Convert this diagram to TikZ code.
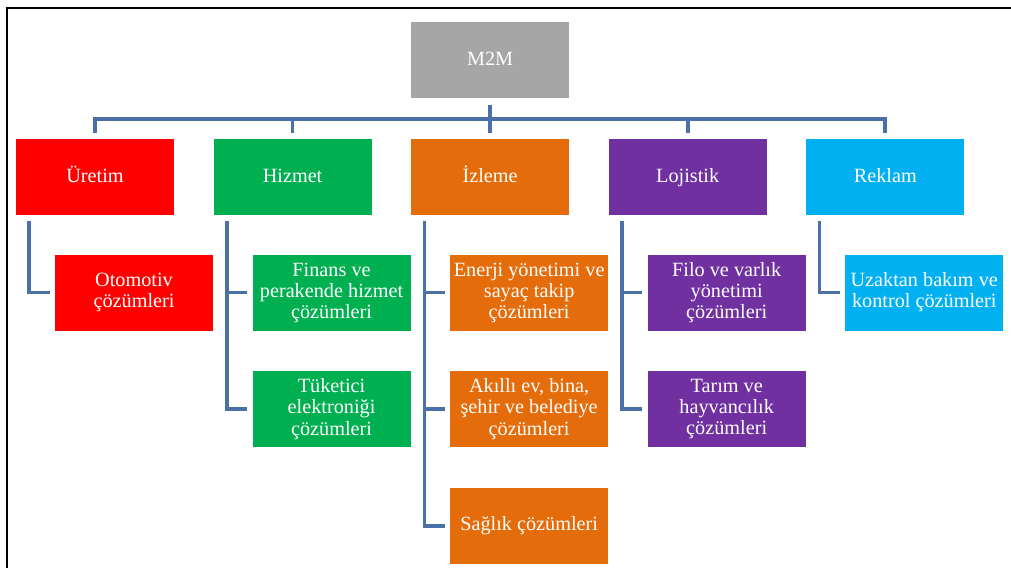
\documentclass[tikz,border=0pt]{standalone}
\usepackage{fontspec}
\setmainfont{Liberation Serif}
\usetikzlibrary{positioning}
\definecolor{grau}{RGB}{166,166,166}
\definecolor{rot}{RGB}{255,0,0}
\definecolor{gruen}{RGB}{0,176,80}
\definecolor{orangeton}{RGB}{228,108,10}
\definecolor{lila}{RGB}{112,48,160}
\definecolor{hellblau}{RGB}{0,176,240}
\definecolor{linie}{RGB}{74,112,168}
\tikzset{
	kasten/.style={minimum width=3.95cm, minimum height=1.9cm, inner sep=1pt,
		align=center, text=white, font=\fontsize{14.4}{15}\selectfont},
	bereich/.style={kasten, text height=2.2ex, text depth=0.6ex},
	verb/.style={draw=linie, line width=2.6pt},
}
\begin{document}
\begin{tikzpicture}[node distance=0.975cm]
		\useasboundingbox (0,0) rectangle (25.275,-14.2);
		% Rahmen
		\draw[line width=1.2pt] (0.175,-14.2) -- (0.175,-0.2) -- (25.275,-0.2);
		% Bereiche
		\node[bereich, fill=rot] (uretim) at (2.375,-4.425) {Üretim};
		\node[bereich, fill=gruen, right=of uretim] (hizmet) {Hizmet};
		\node[bereich, fill=orangeton, right=of hizmet] (izleme) {İzleme};
		\node[bereich, fill=lila, right=of izleme] (lojistik) {Lojistik};
		\node[bereich, fill=hellblau, right=of lojistik] (reklam) {Reklam};
		% Wurzel
		\node[bereich, fill=grau, above=1cm of izleme] (m2m) {M2M};
		% Anwendungen
		\node[kasten, fill=rot, anchor=north west] (otomotiv)
			at ([xshift=0.975cm, yshift=-0.975cm]uretim.south west) {Otomotiv\\çözümleri};
		\node[kasten, fill=gruen, anchor=north west] (finans)
			at ([xshift=0.975cm, yshift=-0.975cm]hizmet.south west) {Finans ve\\perakende hizmet\\çözümleri};
		\node[kasten, fill=gruen, below=1cm of finans] (tuketici) {Tüketici\\elektroniği\\çözümleri};
		\node[kasten, fill=orangeton, anchor=north west] (enerji)
			at ([xshift=0.975cm, yshift=-0.975cm]izleme.south west) {Enerji yönetimi ve\\sayaç takip\\çözümleri};
		\node[kasten, fill=orangeton, below=1cm of enerji] (akilli) {Akıllı ev, bina,\\şehir ve belediye\\çözümleri};
		\node[kasten, fill=orangeton, below=1cm of akilli] (saglik) {Sağlık çözümleri};
		\node[kasten, fill=lila, anchor=north west] (filo)
			at ([xshift=0.975cm, yshift=-0.975cm]lojistik.south west) {Filo ve varlık\\yönetimi\\çözümleri};
		\node[kasten, fill=lila, below=1cm of filo] (tarim) {Tarım ve\\hayvancılık\\çözümleri};
		\node[kasten, fill=hellblau, anchor=north west] (uzaktan)
			at ([xshift=0.975cm, yshift=-0.975cm]reklam.south west) {Uzaktan bakım ve\\kontrol çözümleri};
		% Verbindungen
		\coordinate (bus) at ([yshift=-0.5cm]m2m.south);
		\draw[verb] ([yshift=-0.15cm]m2m.south) -- ([yshift=0.15cm]izleme.north);
		\foreach \k in {uretim,hizmet,lojistik,reklam}
			\draw[verb] ([yshift=0.15cm]\k.north) |- (bus);
		\foreach \e/\k in {uretim/otomotiv, hizmet/finans, hizmet/tuketici,
				izleme/enerji, izleme/akilli, izleme/saglik,
				lojistik/filo, lojistik/tarim, reklam/uzaktan}
			\draw[verb] ([xshift=0.34cm, yshift=-0.15cm]\e.south west) |- ([xshift=-0.125cm]\k.west);
	\end{tikzpicture}
\end{document}
